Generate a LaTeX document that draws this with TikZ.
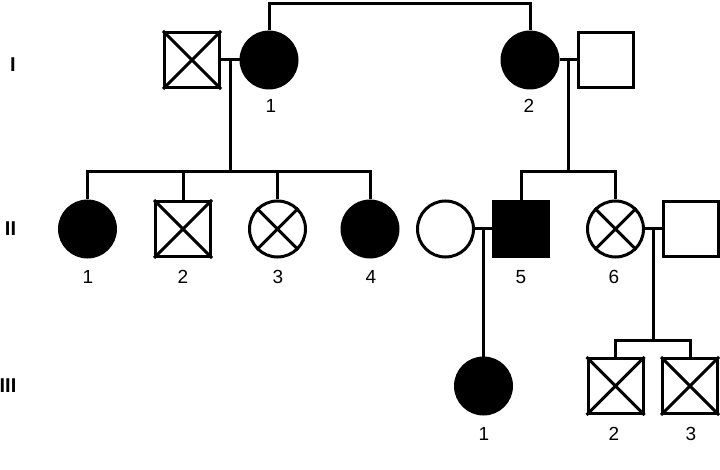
\documentclass[tikz,border=0pt]{standalone}
\usepackage{fontspec}
\setmainfont{Liberation Sans}
\begin{document}
\begin{tikzpicture}[x=1pt,y=-1pt,line width=3pt,
  fem/.style={circle,draw,inner sep=0pt,minimum size=56pt,line width=3pt},
  mal/.style={rectangle,draw,inner sep=0pt,minimum size=55pt,line width=3pt},
  aff/.style={fill=black},
  lab/.style={font=\fontsize{19}{19}\selectfont,inner sep=0pt},
  gen/.style={font=\fontsize{20}{20}\selectfont\bfseries,inner sep=0pt}]
\useasboundingbox (0,0) rectangle (720,470);
% generation labels
\node[gen] (gI) at (13,65) {I};
\node[gen] (gII) at (10.5,228.5) {II};
\node[gen] (gIII) at (8,386) {III};
% generation I
\node[mal] (a1) at (192,60) {};
\node[fem,aff] (a2) at (269,60) {};
\node[fem,aff] (a3) at (530,60) {};
\node[mal] (a4) at (606,60) {};
\node[lab] (la2) at (271,106) {1};
\node[lab] (la3) at (529,106) {2};
% generation II
\node[fem,aff] (b1) at (87.5,229) {};
\node[mal] (b2) at (183,229) {};
\node[fem] (b3) at (277.5,229) {};
\node[fem,aff] (b4) at (370,229) {};
\node[fem] (b5s) at (445.5,229) {};
\node[mal,aff] (b5) at (521,229) {};
\node[fem] (b6) at (615.5,229) {};
\node[mal] (b6s) at (690.5,229) {};
\node[lab] (lb1) at (88,277) {1};
\node[lab] (lb2) at (183,277) {2};
\node[lab] (lb3) at (278,277) {3};
\node[lab] (lb4) at (371,277) {4};
\node[lab] (lb5) at (521,277) {5};
\node[lab] (lb6) at (614,277) {6};
% generation III
\node[fem,aff] (c1) at (483.5,386) {};
\node[mal] (c2) at (615.5,386) {};
\node[mal] (c3) at (690,386) {};
\node[lab] (lc1) at (484,434) {1};
\node[lab] (lc2) at (614,434) {2};
\node[lab] (lc3) at (691,434) {3};
% crosses
\foreach \n in {a1,b2,c2,c3}{
  \draw (\n.north west) -- (\n.south east) (\n.north east) -- (\n.south west);}
\foreach \n in {b3,b6}{
  \draw (\n.45) -- (\n.225) (\n.135) -- (\n.315);}
% coordinates
\coordinate (top) at (400,4);
\coordinate (m1) at (230,60);
\coordinate (s1) at (230,172);
\coordinate (m2) at (568,60);
\coordinate (s2) at (568,172);
\coordinate (m3) at (483.5,229);
\coordinate (m4) at (653,229);
\coordinate (s4) at (653,340);
% sibs of generation I
\draw (a2.north) |- (top) -| (a3.north);
% marriages
\draw (a1.east) -- (a2.west);
\draw (a3.east) -- (a4.west);
\draw (b5s.east) -- (b5.west);
\draw (b6.east) -- (b6s.west);
% descent I-1
\draw (m1) -- (s1);
\draw (b1.north) -- (b1.north |- s1) -- (b4.north |- s1) -- (b4.north);
\draw (b2.north) -- (b2.north |- s1);
\draw (b3.north) -- (b3.north |- s1);
% descent I-2
\draw (m2) -- (s2);
\draw (b5.north) -- (b5.north |- s2) -- (b6.north |- s2) -- (b6.north);
% descent II-5
\draw (m3) -- (c1.north);
% descent II-6
\draw (m4) -- (s4);
\draw (c2.north) -- (c2.north |- s4) -- (c3.north |- s4) -- (c3.north);
\end{tikzpicture}
\end{document}
